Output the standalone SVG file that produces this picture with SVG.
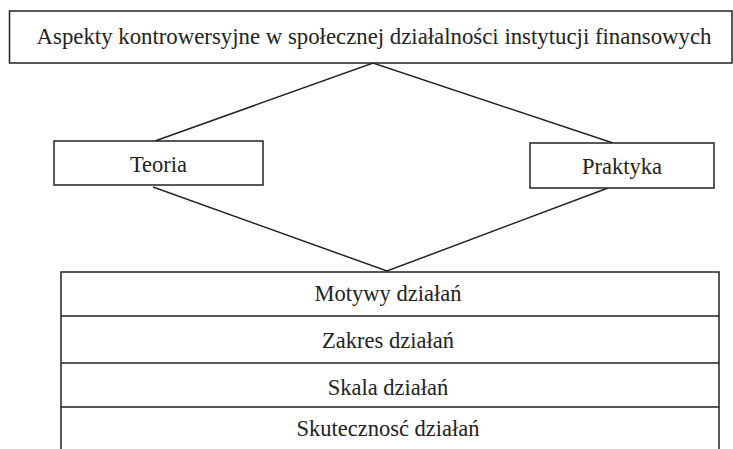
<svg xmlns="http://www.w3.org/2000/svg" width="733" height="449" viewBox="0 0 733 449">
<style>
.box{fill:#fff;stroke:#222;stroke-width:1.5}
.ln{fill:none;stroke:#222;stroke-width:1.5}
text{font-family:"Liberation Serif","Times New Roman",serif;fill:#222;text-anchor:middle}
.t{font-size:22.8px}
.r{font-size:22.5px}
</style>
<rect width="733" height="449" fill="#fff"/>
<g id="connectors">
<polyline class="ln" points="155,141 373,63 613,143"/>
<polyline class="ln" points="153,187 387,271 608,188"/>
</g>
<g id="top">
<rect class="box" x="9.5" y="11" width="722.5" height="52"/>
<text class="t" x="374" y="43.5">Aspekty kontrowersyjne w społecznej działalności instytucji finansowych</text>
</g>
<g id="teoria">
<rect class="box" x="54" y="141" width="209" height="44"/>
<text class="r" x="158.5" y="172">Teoria</text>
</g>
<g id="praktyka">
<rect class="box" x="530" y="143" width="184" height="45"/>
<text class="r" x="622" y="173.5">Praktyka</text>
</g>
<g id="table">
<path class="ln" d="M61,449 V272 H719 V449 M61,316 H719 M61,363 H719 M61,407 H719"/>
<text class="r" x="388" y="300.5">Motywy działań</text>
<text class="r" x="388" y="348">Zakres działań</text>
<text class="r" x="388" y="395">Skala działań</text>
<text class="r" x="388" y="436">Skutecznosć działań</text>
</g>
</svg>
